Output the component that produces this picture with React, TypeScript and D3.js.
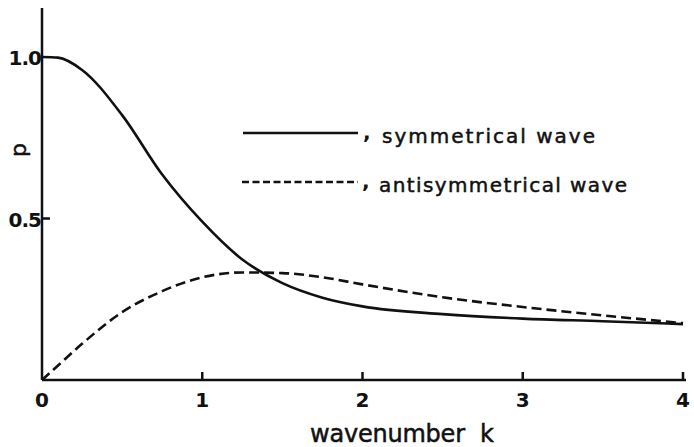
import React from "react";
import * as d3 from "d3";

// wavenumber k
const kValues = [0, 0.1, 0.25, 0.5, 0.75, 1.0, 1.25, 1.5, 1.75, 2.0, 2.5, 3.0, 3.5, 4.0];
// p for each wave type
const symmetrical = [1.0, 0.998, 0.96, 0.82, 0.636, 0.49, 0.373, 0.3, 0.255, 0.228, 0.204, 0.19, 0.182, 0.173];
const antisymmetrical = [0, 0.045, 0.112, 0.21, 0.275, 0.318, 0.333, 0.331, 0.318, 0.296, 0.256, 0.226, 0.2, 0.176];

const xTicks = [0, 1, 2, 3, 4];
const yTicks = [0.5, 1.0];
const yTickLabels = ["0.5", "1.0"];

const W = 694;
const H = 447;
const font = "'DejaVu Sans', sans-serif";

export default function App() {
  const x = d3.scaleLinear().domain([0, 4]).range([42, 683]);
  const y = d3.scaleLinear().domain([0, 1]).range([380, 57]);

  const line = d3
    .line<number>()
    .x((_, i) => x(kValues[i]))
    .y((d) => y(d))
    .curve(d3.curveMonotoneX);

  const ink = "#111";
  // lettering in the original is a bit heavier than the regular face
  const heavy = { stroke: ink, strokeWidth: 0.5 };

  return (
    <div style={{ position: "absolute", left: 0, top: 0 }}>
      <svg width={W} height={H} style={{ display: "block", background: "#fff" }}>
        {/* axes */}
        <line x1={x(0)} y1={y(0)} x2={x(0)} y2={8} stroke={ink} strokeWidth={2.5} />
        <line x1={x(0)} y1={y(0)} x2={686} y2={y(0)} stroke={ink} strokeWidth={2.5} />

        {xTicks.map((t) => (
          <g key={"x" + t}>
            {t > 0 && <line x1={x(t)} x2={x(t)} y1={y(0)} y2={y(0) - 8} stroke={ink} strokeWidth={2.5} />}
            <text
              x={x(t)}
              y={407}
              textAnchor="middle"
              fontFamily={font}
              fontSize={20}
              fontWeight="bold"
              fill={ink}
            >
              {t}
            </text>
          </g>
        ))}

        {yTicks.map((t, i) => (
          <g key={"y" + t}>
            {t < 1 && <line x1={x(0)} x2={x(0) + 8} y1={y(t)} y2={y(t)} stroke={ink} strokeWidth={2.5} />}
            <text
              x={x(0) - 1}
              y={y(t) + 8}
              textAnchor="end"
              fontFamily={font}
              fontSize={20}
              fontWeight="bold"
              fill={ink}
              letterSpacing={-1}
            >
              {yTickLabels[i]}
            </text>
          </g>
        ))}

        {/* axis titles */}
        <text
          transform="translate(26,150) rotate(-90)"
          textAnchor="middle"
          fontFamily={font}
          fontSize={22}
          fill={ink}
          {...heavy}
        >
          p
        </text>
        <text
          x={310}
          y={442}
          fontFamily={font}
          fontSize={24}
          fill={ink}
          textLength={155}
          lengthAdjust="spacing"
          {...heavy}
        >
          wavenumber
        </text>
        <text x={480} y={442} fontFamily={font} fontSize={24} fill={ink} {...heavy}>
          k
        </text>

        {/* curves */}
        <path d={line(symmetrical) ?? ""} fill="none" stroke={ink} strokeWidth={2.6} />
        <path
          d={line(antisymmetrical) ?? ""}
          fill="none"
          stroke={ink}
          strokeWidth={2.6}
          strokeDasharray="10 5"
        />

        {/* legend */}
        <line x1={243} x2={358} y1={133} y2={133} stroke={ink} strokeWidth={2.5} />
        <text x={363} y={139} fontFamily={font} fontSize={20} fontWeight="bold" fill={ink}>
          ,
        </text>
        <text
          x={382}
          y={143}
          fontFamily={font}
          fontSize={20}
          fill={ink}
          textLength={213}
          lengthAdjust="spacing"
          {...heavy}
        >
          symmetrical wave
        </text>

        <line x1={242} x2={358} y1={182} y2={182} stroke={ink} strokeWidth={2.5} strokeDasharray="7 3.5" />
        <text x={362} y={188} fontFamily={font} fontSize={20} fontWeight="bold" fill={ink}>
          ,
        </text>
        <text
          x={379}
          y={192}
          fontFamily={font}
          fontSize={20}
          fill={ink}
          textLength={248}
          lengthAdjust="spacing"
          {...heavy}
        >
          antisymmetrical wave
        </text>
      </svg>
    </div>
  );
}
